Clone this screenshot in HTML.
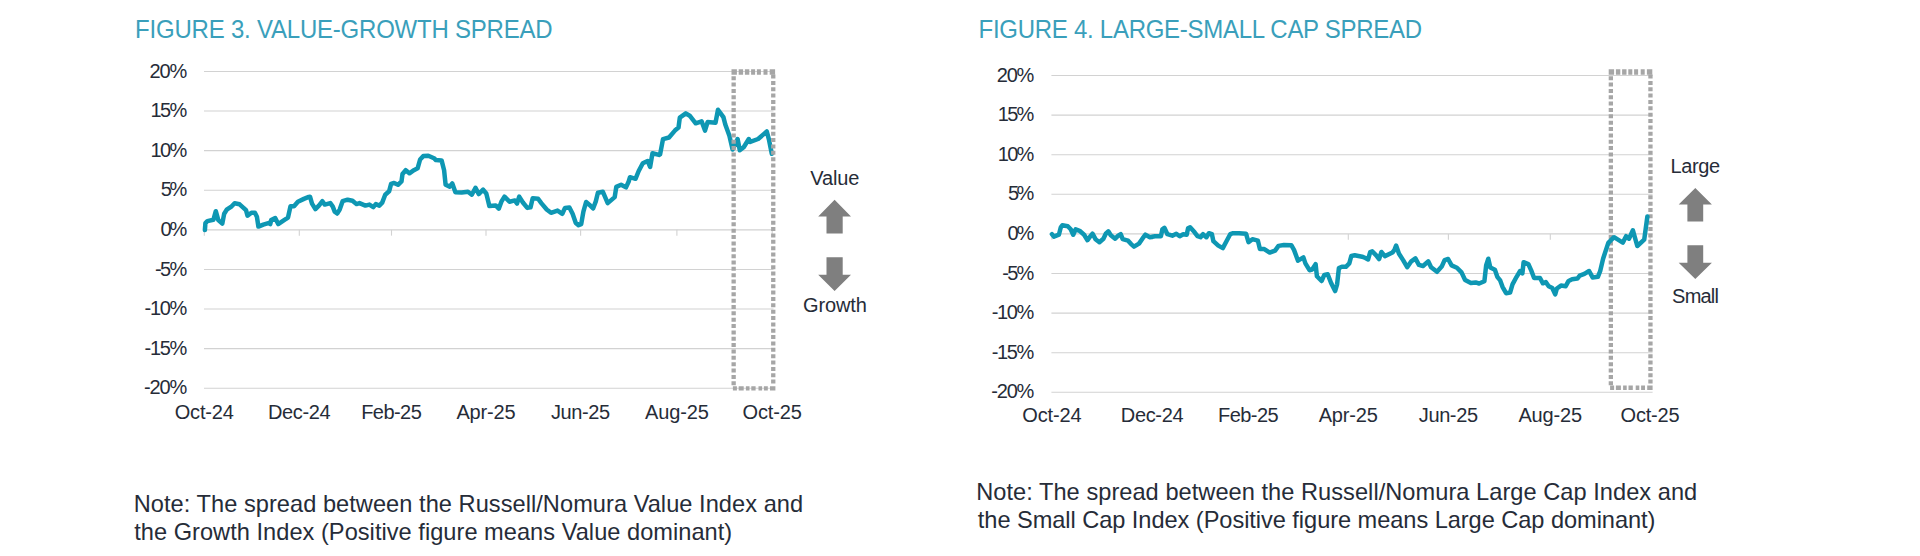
<!DOCTYPE html>
<html><head><meta charset="utf-8"><title>Spreads</title>
<style>
html,body{margin:0;padding:0;background:#fff;}
body{width:1920px;height:556px;overflow:hidden;font-family:"Liberation Sans",sans-serif;}
svg{display:block}
text{font-family:"Liberation Sans",sans-serif;}
.ax{font-size:20px;fill:#262c38;}
.ttl{font-size:24px;fill:#3a9fbb;}
.note{font-size:23.6px;fill:#262c38;}
.lab{font-size:20px;fill:#262c38;}
</style></head><body>
<svg width="1920" height="556" viewBox="0 0 1920 556">
<rect width="1920" height="556" fill="#fff"/>
<text transform="translate(135.1,37.6) scale(1,1.065)" x="0" y="0" class="ttl" textLength="417.5" lengthAdjust="spacing">FIGURE 3. VALUE-GROWTH SPREAD</text>
<text transform="translate(978.6,37.6) scale(1,1.065)" x="0" y="0" class="ttl" textLength="443.5" lengthAdjust="spacing">FIGURE 4. LARGE-SMALL CAP SPREAD</text>
<line x1="204" y1="71.45" x2="773.5" y2="71.45" stroke="#d2d2d2" stroke-width="1.1"/>
<text x="149.6" y="77.55" class="ax" textLength="37.6" lengthAdjust="spacing">20%</text>
<line x1="204" y1="111.05" x2="773.5" y2="111.05" stroke="#d2d2d2" stroke-width="1.1"/>
<text x="150.6" y="117.15" class="ax" textLength="36.6" lengthAdjust="spacing">15%</text>
<line x1="204" y1="150.65" x2="773.5" y2="150.65" stroke="#d2d2d2" stroke-width="1.1"/>
<text x="150.6" y="156.75" class="ax" textLength="36.6" lengthAdjust="spacing">10%</text>
<line x1="204" y1="190.25" x2="773.5" y2="190.25" stroke="#d2d2d2" stroke-width="1.1"/>
<text x="160.8" y="196.35" class="ax" textLength="26.4" lengthAdjust="spacing">5%</text>
<line x1="204" y1="229.85" x2="773.5" y2="229.85" stroke="#d2d2d2" stroke-width="1.1"/>
<text x="160.4" y="235.95" class="ax" textLength="26.8" lengthAdjust="spacing">0%</text>
<line x1="204" y1="269.45" x2="773.5" y2="269.45" stroke="#d2d2d2" stroke-width="1.1"/>
<text x="155.0" y="275.55" class="ax" textLength="32.2" lengthAdjust="spacing">-5%</text>
<line x1="204" y1="309.05" x2="773.5" y2="309.05" stroke="#d2d2d2" stroke-width="1.1"/>
<text x="144.6" y="315.15" class="ax" textLength="42.6" lengthAdjust="spacing">-10%</text>
<line x1="204" y1="348.65" x2="773.5" y2="348.65" stroke="#d2d2d2" stroke-width="1.1"/>
<text x="144.6" y="354.75" class="ax" textLength="42.6" lengthAdjust="spacing">-15%</text>
<line x1="204" y1="388.25" x2="773.5" y2="388.25" stroke="#d2d2d2" stroke-width="1.1"/>
<text x="144.0" y="394.35" class="ax" textLength="43.2" lengthAdjust="spacing">-20%</text>
<line x1="204.3" y1="229.85" x2="204.3" y2="235.65" stroke="#d2d2d2" stroke-width="1.1"/>
<line x1="299.3" y1="229.85" x2="299.3" y2="235.65" stroke="#d2d2d2" stroke-width="1.1"/>
<line x1="391.5" y1="229.85" x2="391.5" y2="235.65" stroke="#d2d2d2" stroke-width="1.1"/>
<line x1="486" y1="229.85" x2="486" y2="235.65" stroke="#d2d2d2" stroke-width="1.1"/>
<line x1="580.6" y1="229.85" x2="580.6" y2="235.65" stroke="#d2d2d2" stroke-width="1.1"/>
<line x1="676.9" y1="229.85" x2="676.9" y2="235.65" stroke="#d2d2d2" stroke-width="1.1"/>
<line x1="772.2" y1="229.85" x2="772.2" y2="235.65" stroke="#d2d2d2" stroke-width="1.1"/>
<text x="174.7" y="418.7" class="ax" textLength="59.2" lengthAdjust="spacing">Oct-24</text>
<text x="267.9" y="418.7" class="ax" textLength="62.8" lengthAdjust="spacing">Dec-24</text>
<text x="361.2" y="418.7" class="ax" textLength="60.6" lengthAdjust="spacing">Feb-25</text>
<text x="456.4" y="418.7" class="ax" textLength="59.2" lengthAdjust="spacing">Apr-25</text>
<text x="551.0" y="418.7" class="ax" textLength="59.2" lengthAdjust="spacing">Jun-25</text>
<text x="645.0" y="418.7" class="ax" textLength="63.8" lengthAdjust="spacing">Aug-25</text>
<text x="742.6" y="418.7" class="ax" textLength="59.2" lengthAdjust="spacing">Oct-25</text>
<line x1="1051.4" y1="75.50" x2="1652.6" y2="75.50" stroke="#d2d2d2" stroke-width="1.1"/>
<text x="996.8" y="81.60" class="ax" textLength="37.6" lengthAdjust="spacing">20%</text>
<line x1="1051.4" y1="115.10" x2="1652.6" y2="115.10" stroke="#d2d2d2" stroke-width="1.1"/>
<text x="997.8" y="121.20" class="ax" textLength="36.6" lengthAdjust="spacing">15%</text>
<line x1="1051.4" y1="154.70" x2="1652.6" y2="154.70" stroke="#d2d2d2" stroke-width="1.1"/>
<text x="997.8" y="160.80" class="ax" textLength="36.6" lengthAdjust="spacing">10%</text>
<line x1="1051.4" y1="194.30" x2="1652.6" y2="194.30" stroke="#d2d2d2" stroke-width="1.1"/>
<text x="1008.0" y="200.40" class="ax" textLength="26.4" lengthAdjust="spacing">5%</text>
<line x1="1051.4" y1="233.90" x2="1652.6" y2="233.90" stroke="#d2d2d2" stroke-width="1.1"/>
<text x="1007.6" y="240.00" class="ax" textLength="26.8" lengthAdjust="spacing">0%</text>
<line x1="1051.4" y1="273.50" x2="1652.6" y2="273.50" stroke="#d2d2d2" stroke-width="1.1"/>
<text x="1002.2" y="279.60" class="ax" textLength="32.2" lengthAdjust="spacing">-5%</text>
<line x1="1051.4" y1="313.10" x2="1652.6" y2="313.10" stroke="#d2d2d2" stroke-width="1.1"/>
<text x="991.8" y="319.20" class="ax" textLength="42.6" lengthAdjust="spacing">-10%</text>
<line x1="1051.4" y1="352.70" x2="1652.6" y2="352.70" stroke="#d2d2d2" stroke-width="1.1"/>
<text x="991.8" y="358.80" class="ax" textLength="42.6" lengthAdjust="spacing">-15%</text>
<line x1="1051.4" y1="392.30" x2="1652.6" y2="392.30" stroke="#d2d2d2" stroke-width="1.1"/>
<text x="991.2" y="398.40" class="ax" textLength="43.2" lengthAdjust="spacing">-20%</text>
<line x1="1051.9" y1="233.90" x2="1051.9" y2="239.70" stroke="#d2d2d2" stroke-width="1.1"/>
<line x1="1152.2" y1="233.90" x2="1152.2" y2="239.70" stroke="#d2d2d2" stroke-width="1.1"/>
<line x1="1248.3" y1="233.90" x2="1248.3" y2="239.70" stroke="#d2d2d2" stroke-width="1.1"/>
<line x1="1348.3" y1="233.90" x2="1348.3" y2="239.70" stroke="#d2d2d2" stroke-width="1.1"/>
<line x1="1448.4" y1="233.90" x2="1448.4" y2="239.70" stroke="#d2d2d2" stroke-width="1.1"/>
<line x1="1550.3" y1="233.90" x2="1550.3" y2="239.70" stroke="#d2d2d2" stroke-width="1.1"/>
<line x1="1650.1" y1="233.90" x2="1650.1" y2="239.70" stroke="#d2d2d2" stroke-width="1.1"/>
<text x="1022.3" y="421.6" class="ax" textLength="59.2" lengthAdjust="spacing">Oct-24</text>
<text x="1120.8" y="421.6" class="ax" textLength="62.8" lengthAdjust="spacing">Dec-24</text>
<text x="1218.0" y="421.6" class="ax" textLength="60.6" lengthAdjust="spacing">Feb-25</text>
<text x="1318.7" y="421.6" class="ax" textLength="59.2" lengthAdjust="spacing">Apr-25</text>
<text x="1418.8" y="421.6" class="ax" textLength="59.2" lengthAdjust="spacing">Jun-25</text>
<text x="1518.4" y="421.6" class="ax" textLength="63.8" lengthAdjust="spacing">Aug-25</text>
<text x="1620.5" y="421.6" class="ax" textLength="59.2" lengthAdjust="spacing">Oct-25</text>
<path d="M204.9,230.0 L205.4,223.1 L207.4,221.1 L213.4,219.8 L215.8,211.2 L218.3,220.1 L222.3,223.6 L224.2,213.7 L226.7,209.7 L231.7,206.3 L234.6,203.3 L239.6,204.3 L243.5,207.8 L246.0,210.2 L247.5,215.7 L251.4,212.7 L254.9,212.7 L256.9,216.7 L258.4,226.6 L263.3,224.6 L268.3,223.1 L270.2,224.1 L271.2,220.1 L275.2,218.1 L278.2,224.1 L284.1,220.1 L288.0,217.6 L290.5,206.3 L294.0,206.3 L297.9,201.8 L303.9,198.9 L308.8,196.9 L310.0,196.7 L312.0,203.6 L315.4,209.1 L318.9,205.6 L322.4,201.2 L324.8,204.6 L330.3,203.1 L332.8,206.6 L334.7,211.6 L337.2,213.5 L339.7,209.6 L342.6,201.2 L347.6,199.7 L352.5,200.7 L356.5,204.1 L359.5,203.1 L365.4,205.6 L369.4,204.6 L373.3,207.1 L375.8,204.1 L379.3,205.6 L382.2,202.6 L385.2,194.7 L389.1,191.3 L391.1,183.9 L394.1,182.9 L398.0,184.8 L401.5,181.4 L402.5,174.0 L405.7,170.2 L409.4,173.3 L413.9,170.2 L417.6,168.3 L420.1,159.5 L423.3,156.1 L428.3,155.7 L434.0,158.2 L435.9,160.1 L441.6,160.4 L444.1,170.2 L445.6,184.7 L449.7,186.6 L452.3,183.4 L455.4,192.2 L461.7,192.6 L468.0,191.8 L471.8,194.7 L475.5,187.8 L478.7,194.1 L483.1,189.7 L486.3,193.5 L489.4,206.1 L495.7,205.4 L498.8,208.6 L501.4,201.7 L504.5,196.6 L509.5,201.7 L514.9,200.4 L517.0,203.6 L519.2,196.6 L522.9,202.5 L527.3,207.9 L530.5,207.4 L532.7,198.2 L538.1,198.7 L541.3,203.1 L546.7,209.5 L551.0,212.8 L557.5,210.6 L562.3,213.8 L565.0,207.9 L569.4,207.4 L572.6,213.8 L575.8,223.0 L578.5,225.2 L581.2,224.1 L583.4,211.7 L586.1,202.0 L589.3,204.7 L593.1,208.5 L595.8,201.4 L597.9,192.8 L602.8,191.7 L607.7,203.1 L614.7,197.1 L616.3,186.9 L621.1,184.7 L626.0,187.4 L628.7,181.5 L630.0,177.2 L635.5,178.8 L638.7,171.0 L642.8,163.3 L647.6,161.0 L650.1,167.0 L652.5,153.2 L659.0,154.9 L660.1,154.3 L663.0,139.1 L669.0,137.5 L674.9,130.6 L678.5,127.6 L679.8,117.7 L685.8,113.4 L689.7,115.7 L695.7,123.3 L701.6,121.3 L705.0,130.6 L707.6,122.1 L715.5,122.7 L718.0,109.8 L723.4,117.1 L725.3,124.5 L729.4,135.8 L732.6,149.5 L737.6,139.0 L739.8,150.2 L743.7,147.3 L748.8,139.0 L750.2,141.9 L758.1,139.0 L766.8,131.5 L768.9,139.4 L771.8,153.8" fill="none" stroke="#0e97b3" stroke-width="4.5" stroke-linejoin="round" stroke-linecap="round"/>
<line x1="1608.7" y1="71.97" x2="1652.6" y2="71.97" stroke="#a6a6a6" stroke-width="5.55" stroke-dasharray="5.4 1.8 4.4 1.8 4.4 1.8 4 1.8 4 2.6 4 2.2 5.4 9"/>
<line x1="1610.1000000000001" y1="387.80" x2="1652.6" y2="387.80" stroke="#a6a6a6" stroke-width="4.40" stroke-dasharray="4 1.8 5 2.2 3.6 1.8 4.3 2.9 3.6 1.8 3.9 2.2 5.4 9"/>
<line x1="1610.85" y1="76.20" x2="1610.85" y2="385.60" stroke="#a6a6a6" stroke-width="4.3" stroke-dasharray="4 2.355"/>
<line x1="1650.45" y1="74.55" x2="1650.45" y2="384.60" stroke="#a6a6a6" stroke-width="4.3" stroke-dasharray="4 2.355"/>
<path d="M1051.9,234.2 L1053.9,236.7 L1058.9,234.7 L1060.8,227.3 L1062.3,225.3 L1067.8,226.3 L1070.7,229.3 L1073.2,234.7 L1075.7,229.3 L1079.6,230.8 L1084.1,234.7 L1087.5,240.2 L1090.0,236.7 L1092.5,233.7 L1095.5,239.2 L1099.4,242.2 L1103.4,238.7 L1105.8,233.7 L1108.3,231.3 L1110.8,235.2 L1115.2,238.7 L1118.2,235.7 L1120.7,234.2 L1122.7,239.2 L1128.1,240.7 L1131.1,244.1 L1134.0,246.6 L1139.0,243.6 L1142.4,238.7 L1145.4,234.7 L1149.9,237.2 L1154.8,236.2 L1160.9,236.2 L1162.4,229.3 L1164.4,227.8 L1167.4,234.2 L1172.3,235.7 L1176.3,233.7 L1179.7,236.2 L1183.2,234.2 L1186.7,234.7 L1188.1,228.3 L1190.1,227.3 L1194.6,232.3 L1197.5,236.2 L1200.5,237.2 L1203.0,234.2 L1206.4,237.2 L1208.9,233.2 L1211.9,234.2 L1213.4,241.2 L1218.3,245.6 L1222.8,248.1 L1226.2,241.7 L1230.2,234.2 L1233.2,233.2 L1239.1,233.2 L1246.0,233.7 L1248.5,242.2 L1252.4,239.2 L1257.9,240.7 L1259.9,249.1 L1264.3,249.1 L1269.7,252.6 L1275.1,250.6 L1278.5,245.9 L1283.9,245.0 L1291.3,245.2 L1294.0,249.9 L1298.0,260.7 L1303.4,257.4 L1305.4,263.4 L1309.5,270.2 L1312.2,269.5 L1315.6,264.1 L1316.9,276.2 L1321.6,281.0 L1324.3,274.9 L1327.7,274.2 L1331.1,283.0 L1335.1,291.1 L1337.1,284.3 L1338.9,268.1 L1341.9,266.8 L1345.9,266.8 L1349.3,263.4 L1351.3,256.0 L1354.7,255.3 L1362.1,256.7 L1365.4,258.0 L1368.1,259.4 L1370.2,252.0 L1372.2,251.3 L1376.2,255.3 L1379.1,259.0 L1381.4,252.0 L1384.9,256.1 L1392.5,252.5 L1394.3,250.2 L1396.1,245.5 L1399.0,253.7 L1403.1,260.1 L1407.2,267.2 L1411.3,261.3 L1415.4,258.4 L1418.9,264.8 L1423.0,266.0 L1428.2,261.3 L1431.1,267.2 L1437.0,271.8 L1441.7,266.6 L1444.6,260.1 L1448.1,259.0 L1451.6,265.4 L1456.9,267.7 L1461.5,272.4 L1465.1,280.0 L1470.9,283.0 L1475.6,282.4 L1479.1,283.5 L1484.4,281.2 L1486.2,265.1 L1488.3,258.7 L1490.3,267.5 L1494.9,269.8 L1497.3,276.8 L1500.2,280.4 L1502.5,286.8 L1506.1,293.2 L1510.1,292.6 L1512.5,284.4 L1516.6,276.8 L1520.1,271.0 L1522.4,273.3 L1523.6,262.2 L1528.3,264.0 L1531.2,270.4 L1534.1,278.0 L1540.0,278.0 L1542.9,283.3 L1545.8,282.1 L1548.7,286.2 L1552.3,288.0 L1555.2,294.4 L1556.9,288.5 L1561.0,285.6 L1565.7,286.2 L1568.6,280.9 L1572.1,279.2 L1577.4,278.6 L1579.7,275.7 L1584.4,273.9 L1589.1,271.0 L1592.6,277.4 L1597.9,276.8 L1600.2,271.0 L1603.1,258.7 L1608.3,242.9 L1614.0,237.2 L1622.8,242.6 L1626.1,236.2 L1629.0,238.7 L1632.9,230.3 L1637.3,246.0 L1644.2,239.7 L1647.4,216.4" fill="none" stroke="#0e97b3" stroke-width="4.5" stroke-linejoin="round" stroke-linecap="round"/>
<line x1="731.5" y1="71.97" x2="775.4" y2="71.97" stroke="#a6a6a6" stroke-width="5.55" stroke-dasharray="5.4 1.8 4.4 1.8 4.4 1.8 4 1.8 4 2.6 4 2.2 5.4 9"/>
<line x1="732.9" y1="388.45" x2="775.4" y2="388.45" stroke="#a6a6a6" stroke-width="4.30" stroke-dasharray="4 1.8 5 2.2 3.6 1.8 4.3 2.9 3.6 1.8 3.9 2.2 5.4 9"/>
<line x1="733.65" y1="76.20" x2="733.65" y2="386.30" stroke="#a6a6a6" stroke-width="4.3" stroke-dasharray="4 2.355"/>
<line x1="773.25" y1="74.55" x2="773.25" y2="385.30" stroke="#a6a6a6" stroke-width="4.3" stroke-dasharray="4 2.355"/>
<text x="810.2" y="185.0" class="lab" textLength="49.2" lengthAdjust="spacing">Value</text>
<text x="803.1" y="312.4" class="lab" textLength="63.8" lengthAdjust="spacing">Growth</text>
<polygon points="834.6,199.8 851.0,216.6 842.7,216.6 842.7,233.5 826.5,233.5 826.5,216.6 818.2,216.6" fill="#7f7f7f"/>
<polygon points="826.5,257.3 842.7,257.3 842.7,274.8 851.0,274.8 834.6,291 818.2,274.8 826.5,274.8" fill="#7f7f7f"/>
<text x="1670.6" y="172.5" class="lab" textLength="49.6" lengthAdjust="spacing">Large</text>
<text x="1672.1" y="302.6" class="lab" textLength="46.8" lengthAdjust="spacing">Small</text>
<polygon points="1695.3,187.9 1711.8999999999999,204.6 1703.2,204.6 1703.2,221.5 1687.3999999999999,221.5 1687.3999999999999,204.6 1678.7,204.6" fill="#7f7f7f"/>
<polygon points="1687.3999999999999,245.2 1703.2,245.2 1703.2,262.8 1711.8999999999999,262.8 1695.3,279.1 1678.7,262.8 1687.3999999999999,262.8" fill="#7f7f7f"/>
<text x="133.7" y="512" class="note" textLength="669.4" lengthAdjust="spacing">Note: The spread between the Russell/Nomura Value Index and</text>
<text x="134.2" y="539.8" class="note" textLength="598" lengthAdjust="spacing">the Growth Index (Positive figure means Value dominant)</text>
<text x="976.2" y="499.8" class="note" textLength="721" lengthAdjust="spacing">Note: The spread between the Russell/Nomura Large Cap Index and</text>
<text x="977.8" y="528.3" class="note" textLength="677.6" lengthAdjust="spacing">the Small Cap Index (Positive figure means Large Cap dominant)</text>
</svg>
</body></html>
